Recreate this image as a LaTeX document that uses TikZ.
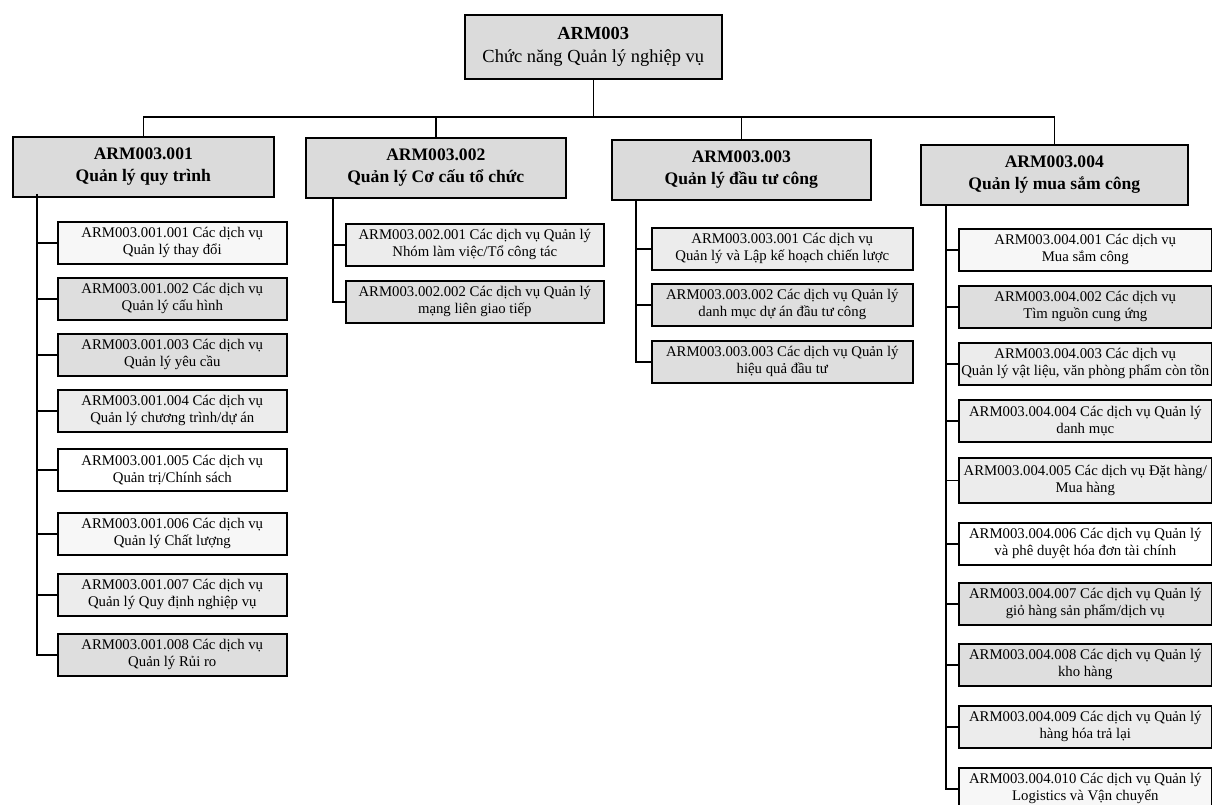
\documentclass[tikz,border=0pt]{standalone}
\usepackage{fontspec}
\setmainfont{Liberation Serif}
\usetikzlibrary{positioning}

\begin{document}
\begin{tikzpicture}[% one unit = one pixel of the scanned chart
           x = 0.2mm, y = -0.2mm,
  box/.style = {draw, line width=0.9pt, anchor=north west,
                align=center, inner sep=1pt},
 root/.style = {box, fill=gray!28, minimum width=51.4mm, minimum height=12.8mm,
                font=\fontsize{10.5}{13}\selectfont},
 head/.style = {box, fill=gray!28, minimum height=12mm,
                font=\fontsize{10}{12.5}\selectfont\bfseries},
  svc/.style = {box, minimum height=8.4mm,
                font=\fontsize{8.4}{9.8}\selectfont},
 col1/.style = {svc, minimum width=45.8mm},
 col2/.style = {svc, minimum width=51.6mm},
 col3/.style = {svc, minimum width=52.2mm},
 col4/.style = {svc, minimum width=50.6mm},
   dk/.style = {fill=gray!26},
   md/.style = {fill=gray!15},
   lt/.style = {fill=gray!6},
 wire/.style = {line width=0.9pt}
                        ]
	\useasboundingbox (0,0) rectangle (1212,805);

	% top of the tree
	\node[root] (arm) at (464,14) {\textbf{ARM003}\\Chức năng Quản lý nghiệp vụ};
	\coordinate (bus) at (0,117);

	\node[head, minimum width=52.2mm] (h1) at (12,136)  {ARM003.001\\Quản lý quy trình};
	\node[head, minimum width=52mm]   (h2) at (305,137) {ARM003.002\\Quản lý Cơ cấu tổ chức};
	\node[head, minimum width=51.8mm] (h3) at (611,139) {ARM003.003\\Quản lý đầu tư công};
	\node[head, minimum width=53.4mm] (h4) at (920,144) {ARM003.004\\Quản lý mua sắm công};

	\draw[wire] (arm.south) -- (arm.south |- bus);
	\draw[wire] (h1.north) -- (h1.north |- bus) -- (h4.north |- bus) -- (h4.north);
	\draw[wire] (h2.north |- bus) -- (h2.north);
	\draw[wire] (h3.north |- bus) -- (h3.north);

	% Quan ly quy trinh
	\node[col1, lt] (a1) at (57,221) {ARM003.001.001 Các dịch vụ\\Quản lý thay đổi};
	\node[col1, dk] (a2) at (57,277) {ARM003.001.002 Các dịch vụ\\Quản lý cấu hình};
	\node[col1, dk] (a3) at (57,333) {ARM003.001.003 Các dịch vụ\\Quản lý yêu cầu};
	\node[col1, md] (a4) at (57,389) {ARM003.001.004 Các dịch vụ\\Quản lý chương trình/dự án};
	\node[col1]     (a5) at (57,448) {ARM003.001.005 Các dịch vụ\\Quản trị/Chính sách};
	\node[col1, lt] (a6) at (57,512) {ARM003.001.006 Các dịch vụ\\Quản lý Chất lượng};
	\node[col1, md] (a7) at (57,573) {ARM003.001.007 Các dịch vụ\\Quản lý Quy định nghiệp vụ};
	\node[col1, dk] (a8) at (57,633) {ARM003.001.008 Các dịch vụ\\Quản lý Rủi ro};

	% Quan ly Co cau to chuc
	\node[col2, md] (b1) at (345,223) {ARM003.002.001 Các dịch vụ Quản lý\\Nhóm làm việc/Tổ công tác};
	\node[col2, dk] (b2) at (345,280) {ARM003.002.002 Các dịch vụ Quản lý\\mạng liên giao tiếp};

	% Quan ly dau tu cong
	\node[col3, md] (c1) at (651,227) {ARM003.003.001 Các dịch vụ\\Quản lý và Lập kế hoạch chiến lược};
	\node[col3, dk] (c2) at (651,283) {ARM003.003.002 Các dịch vụ Quản lý\\danh mục dự án đầu tư công};
	\node[col3, dk] (c3) at (651,340) {ARM003.003.003 Các dịch vụ Quản lý\\hiệu quả đầu tư};

	% Quan ly mua sam cong
	\node[col4, lt] (d1)  at (958,228) {ARM003.004.001 Các dịch vụ\\Mua sắm công};
	\node[col4, dk] (d2)  at (958,285) {ARM003.004.002 Các dịch vụ\\Tìm nguồn cung ứng};
	\node[col4, md] (d3)  at (958,342) {ARM003.004.003 Các dịch vụ\\Quản lý vật liệu, văn phòng phẩm còn tồn};
	\node[col4, md] (d4)  at (958,399) {ARM003.004.004 Các dịch vụ Quản lý\\danh mục};
	\node[col4, md, minimum height=9mm] (d5) at (958,457) {ARM003.004.005 Các dịch vụ Đặt hàng/\\Mua hàng};
	\node[col4]     (d6)  at (958,522) {ARM003.004.006 Các dịch vụ Quản lý\\và phê duyệt hóa đơn tài chính};
	\node[col4, dk] (d7)  at (958,582) {ARM003.004.007 Các dịch vụ Quản lý\\giỏ hàng sản phẩm/dịch vụ};
	\node[col4, dk] (d8)  at (958,643) {ARM003.004.008 Các dịch vụ Quản lý\\kho hàng};
	\node[col4, md] (d9)  at (958,705) {ARM003.004.009 Các dịch vụ Quản lý\\hàng hóa trả lại};
	\node[col4, lt] (d10) at (958,767) {ARM003.004.010 Các dịch vụ Quản lý\\Logistics và Vận chuyển};

	% spines
	\coordinate (s1) at (37,194);
	\coordinate (s2) at (333,199);
	\coordinate (s3) at (636,201);
	\coordinate (s4) at (946,204);

	\draw[wire] (s1) |- (a8.west);
	\foreach \i in {1,...,7} \draw[wire] (s1 |- a\i.west) -- (a\i.west);
	\draw[wire] (s2) |- (b2.west);
	\draw[wire] (s2 |- b1.west) -- (b1.west);
	\draw[wire] (s3) |- (c3.west);
	\foreach \i in {1,2} \draw[wire] (s3 |- c\i.west) -- (c\i.west);
	\draw[wire] (s4) |- (d10.west);
	\foreach \i in {1,...,9} \draw[wire] (s4 |- d\i.west) -- (d\i.west);
\end{tikzpicture}
\end{document}
